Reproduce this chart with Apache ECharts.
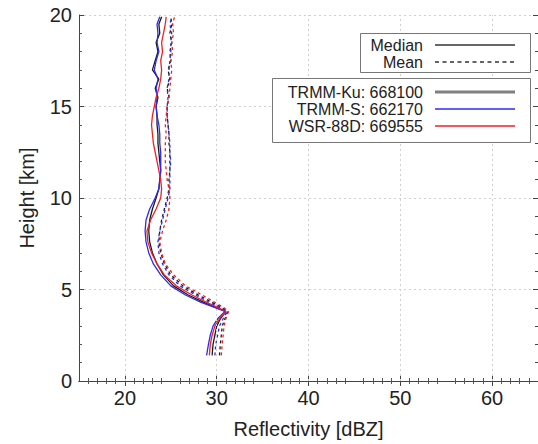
<!DOCTYPE html>
<html>
<head>
<meta charset="utf-8">
<script src="https://cdn.jsdelivr.net/npm/echarts@6/dist/echarts.min.js"></script>
<style>
html,body{margin:0;padding:0;background:#fff;}
#c{width:538px;height:444px;}
</style>
</head>
<body>
<div id="c"></div>
<script>
// ---- data ----
var heights = [1.4, 2.0, 2.5, 3.0, 3.4, 3.8, 4.0, 4.3, 4.7, 5.2, 5.8, 6.4, 7.0, 7.6, 8.2, 8.8, 9.4, 10.0, 10.5, 11.0, 11.5, 12.0, 12.5, 13.0, 13.5, 14.0, 14.5, 15.0, 15.5, 16.0, 16.5, 17.0, 17.5, 18.0, 18.5, 19.0, 19.5, 19.9];

var kuMedian  = [29.5, 29.6, 29.8, 30.0, 30.4, 31.0, 30.0, 28.6, 26.9, 25.3, 24.2, 23.5, 23.0, 22.7, 22.6, 22.7, 23.0, 23.4, 23.7, 23.8, 23.9, 23.8, 23.7, 23.6, 23.6, 23.5, 23.5, 23.4, 23.6, 23.3, 23.7, 23.0, 23.3, 23.6, 23.4, 23.8, 23.7, 24.0];
var sMedian   = [28.9, 29.1, 29.3, 29.6, 30.1, 30.9, 29.9, 28.3, 26.6, 25.0, 23.9, 23.1, 22.6, 22.3, 22.2, 22.3, 22.7, 23.3, 23.7, 23.8, 23.9, 23.9, 23.9, 23.8, 23.8, 23.7, 23.5, 23.4, 23.5, 23.4, 23.6, 23.2, 23.4, 23.7, 23.5, 23.6, 23.5, 23.8];
var wsrMedian = [29.2, 29.3, 29.5, 29.8, 30.3, 31.0, 30.2, 28.9, 27.3, 25.6, 24.3, 23.5, 22.9, 22.5, 22.4, 22.8, 23.4, 23.9, 24.0, 23.9, 23.7, 23.5, 23.3, 23.1, 23.0, 22.9, 23.0, 23.2, 23.4, 23.7, 23.9, 24.0, 23.9, 24.1, 24.0, 24.2, 24.4, 24.5];

var kuMean    = [30.3, 30.4, 30.5, 30.6, 30.9, 31.2, 30.6, 29.5, 28.0, 26.3, 25.0, 24.3, 23.9, 23.7, 23.8, 24.0, 24.3, 24.6, 24.8, 24.8, 24.9, 24.9, 24.9, 24.8, 24.8, 24.7, 24.6, 24.6, 24.8, 24.6, 24.9, 24.7, 25.0, 24.9, 25.1, 24.9, 25.1, 25.0];
var sMean     = [29.8, 29.9, 30.1, 30.3, 30.7, 31.1, 30.4, 29.2, 27.7, 26.0, 24.8, 24.1, 23.7, 23.6, 23.8, 24.1, 24.4, 24.7, 24.9, 24.9, 24.9, 25.0, 24.9, 24.9, 24.8, 24.7, 24.6, 24.6, 24.7, 24.6, 24.8, 24.8, 24.9, 25.0, 25.0, 25.1, 24.9, 25.1];
var wsrMean   = [30.5, 30.6, 30.7, 30.8, 31.0, 31.3, 30.8, 29.8, 28.4, 26.6, 25.3, 24.4, 24.0, 23.8, 24.1, 24.5, 24.8, 24.9, 24.8, 24.6, 24.5, 24.4, 24.4, 24.4, 24.5, 24.4, 24.5, 24.6, 24.8, 24.9, 25.0, 25.1, 25.0, 25.2, 25.1, 25.3, 25.2, 25.4];

var xTicks = [20, 30, 40, 50, 60];
var yTicks = [0, 5, 10, 15, 20];
var legendStyleLabels = ['Median', 'Mean'];
var legendSeriesLabels = ['TRMM-Ku: 668100', 'TRMM-S: 662170', 'WSR-88D: 669555'];

// ---- chart ----
var FONT = 'Liberation Sans, Arial, Helvetica, sans-serif';
var colKu = '#1a1a1a', colS = '#2b2bf0', colW = '#f02020';
var gridStyle = { color: '#cfcfcf', type: [2, 3], width: 1 };

function pairs(vals) {
  return vals.map(function (v, i) { return [v, heights[i]]; });
}
function mk(name, vals, color, dashed) {
  return {
    name: name, type: 'line', data: pairs(vals), showSymbol: false, symbol: 'none',
    clip: true, animation: false, z: 3,
    lineStyle: { color: color, width: 1.3, type: dashed ? [3, 3] : 'solid' }
  };
}

var axisLineStyle = { color: '#444', width: 1 };
var chart = echarts.init(document.getElementById('c'), null, { renderer: 'svg' });
var series = [
  mk('TRMM-Ku median', kuMedian, colKu, false),
  mk('TRMM-S median', sMedian, colS, false),
  mk('WSR-88D median', wsrMedian, colW, false),
  mk('TRMM-Ku mean', kuMean, colKu, true),
  mk('TRMM-S mean', sMean, colS, true),
  mk('WSR-88D mean', wsrMean, colW, true)
];
// vertical dotted grid lines at the labelled x ticks
series.push({
  name: 'xgrid', type: 'line', data: [], z: 1, silent: true,
  markLine: {
    silent: true, symbol: 'none', label: { show: false }, animation: false,
    lineStyle: gridStyle,
    data: xTicks.map(function (v) { return { xAxis: v }; })
  }
});

chart.setOption({
  animation: false,
  backgroundColor: '#fff',
  grid: { left: 79, top: 15, right: -3, bottom: 61, containLabel: false },
  xAxis: [{
    type: 'value', min: 15, max: 65, interval: 5, position: 'bottom',
    name: 'Reflectivity [dBZ]', nameLocation: 'middle', nameGap: 38,
    nameTextStyle: { fontFamily: FONT, fontSize: 20, color: '#222' },
    axisLine: { show: true, lineStyle: axisLineStyle },
    axisTick: { show: true, inside: true, length: 5, customValues: xTicks, lineStyle: axisLineStyle },
    minorTick: { show: true, splitNumber: 5, length: 3, lineStyle: { color: '#555' } },
    axisLabel: { customValues: xTicks, fontFamily: FONT, fontSize: 20, color: '#222', margin: 7 },
    splitLine: { show: false }
  }, {
    type: 'value', min: 15, max: 65, interval: 5, position: 'top',
    axisLine: { show: true, lineStyle: axisLineStyle },
    axisTick: { show: true, inside: true, length: 5, customValues: xTicks, lineStyle: axisLineStyle },
    minorTick: { show: true, splitNumber: 5, length: 3, lineStyle: { color: '#555' } },
    axisLabel: { show: false }, splitLine: { show: false }
  }],
  yAxis: [{
    type: 'value', min: 0, max: 20, interval: 5, position: 'left',
    name: 'Height [km]', nameLocation: 'middle', nameGap: 42,
    nameTextStyle: { fontFamily: FONT, fontSize: 20, color: '#222' },
    axisLine: { show: true, lineStyle: axisLineStyle },
    axisTick: { show: true, inside: true, length: 5, lineStyle: axisLineStyle },
    minorTick: { show: true, splitNumber: 5, length: 3, lineStyle: { color: '#555' } },
    axisLabel: { customValues: yTicks, fontFamily: FONT, fontSize: 20, color: '#222', margin: 7 },
    splitLine: { show: true, lineStyle: gridStyle }
  }, {
    type: 'value', min: 0, max: 20, interval: 5, position: 'right',
    axisLine: { show: true, lineStyle: axisLineStyle },
    axisTick: { show: true, inside: true, length: 5, lineStyle: axisLineStyle },
    minorTick: { show: true, splitNumber: 5, length: 3 },
    axisLabel: { show: false }, splitLine: { show: false }
  }],
  series: series,
  graphic: (function () {
    var g = [];
    var tx = 423, lx1 = 435, lx2 = 515;
    var tf = '16px ' + FONT;
    // box 1
    g.push({ type: 'rect', shape: { x: 360.5, y: 33.5, width: 170, height: 39 },
      style: { fill: '#fff', stroke: '#777', lineWidth: 1 }, z: 100 });
    var ys1 = [45, 62];
    legendStyleLabels.forEach(function (t, i) {
      g.push({ type: 'text', x: tx, y: ys1[i], z: 101,
        style: { text: t, fill: '#222', font: tf, textAlign: 'right', textVerticalAlign: 'middle' } });
      g.push({ type: 'line', z: 101, shape: { x1: lx1, y1: ys1[i], x2: lx2, y2: ys1[i] },
        style: { stroke: '#333', lineWidth: 1.5, lineDash: i === 1 ? [4, 3.5] : null } });
    });
    // box 2
    g.push({ type: 'rect', shape: { x: 272.5, y: 78.5, width: 258, height: 64 },
      style: { fill: '#fff', stroke: '#777', lineWidth: 1 }, z: 100 });
    var ys2 = [92, 109, 126];
    var lc = ['#808080', colS, colW], lw = [3, 1.3, 1.3];
    legendSeriesLabels.forEach(function (t, i) {
      g.push({ type: 'text', x: tx, y: ys2[i], z: 101,
        style: { text: t, fill: '#222', font: tf, textAlign: 'right', textVerticalAlign: 'middle' } });
      g.push({ type: 'line', z: 101, shape: { x1: lx1, y1: ys2[i], x2: lx2, y2: ys2[i] },
        style: { stroke: lc[i], lineWidth: lw[i] } });
    });
    return g;
  })()
});
</script>
</body>
</html>
